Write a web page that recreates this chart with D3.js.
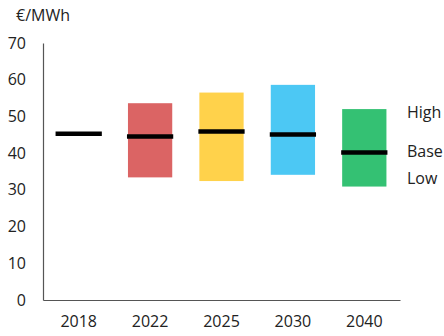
<!DOCTYPE html>
<html><head><meta charset="utf-8">
<script src="https://cdn.jsdelivr.net/npm/d3@7"></script>
<style>body{margin:0;background:#fff}svg{display:block}text{font-family:"Open Sans",sans-serif;fill:#222}</style>
</head><body><svg id="c" width="444" height="336"></svg>
<script>
const categories = ["2018","2022","2025","2030","2040"];
const lowValues  = [null, 33.4, 32.4, 34.1, 30.9];
const highValues = [null, 53.6, 56.5, 58.6, 52.0];
const baseValues = [45.3, 44.5, 45.9, 45.1, 40.2];
const colors     = [null, "#DB6464", "#FFD24B", "#4CC8F4", "#34C173"];
const yTicks = [0,10,20,30,40,50,60,70];
const legendLabels = [["High",51.2],["Base",40.6],["Low",33.0]];

const svg = d3.select("#c");
const m = {l:43, r:44, t:43, b:36};
const W = 444, H = 336;
const FS = 16;
const x = d3.scaleBand().domain(categories).range([m.l, W - m.r]).paddingInner(0.38).paddingOuter(0.19);
const y = d3.scaleLinear().domain([0,70]).range([H - m.b, m.t]);

const yAxis = svg.append("g").attr("transform",`translate(${m.l},0)`)
  .call(d3.axisLeft(y).tickValues(yTicks).tickSize(0).tickPadding(17));
yAxis.select(".domain").attr("stroke","#555").attr("stroke-width",1.2);
yAxis.selectAll("text").attr("font-size",FS).attr("fill","#222").attr("font-family","Open Sans, sans-serif");

const xAxis = svg.append("g").attr("transform",`translate(0,${H - m.b})`)
  .call(d3.axisBottom(x).tickSize(0).tickPadding(16));
xAxis.select(".domain").attr("stroke","#555").attr("stroke-width",1.2);
xAxis.selectAll("text").attr("font-size",FS).attr("fill","#222").attr("font-family","Open Sans, sans-serif");

const idx = d3.range(categories.length);
svg.append("g").selectAll("rect").data(idx.filter(i => highValues[i] != null)).join("rect")
  .attr("x", i => x(categories[i])).attr("width", x.bandwidth())
  .attr("y", i => y(highValues[i])).attr("height", i => y(lowValues[i]) - y(highValues[i]))
  .attr("fill", i => colors[i]);

svg.append("g").selectAll("line").data(idx).join("line")
  .attr("x1", i => x(categories[i]) - 1).attr("x2", i => x(categories[i]) + x.bandwidth() + 1)
  .attr("y1", i => y(baseValues[i])).attr("y2", i => y(baseValues[i]))
  .attr("stroke","#000").attr("stroke-width",4.5);

svg.append("g").selectAll("text").data(legendLabels).join("text")
  .attr("x", 407).attr("y", d => y(d[1])).attr("dy","0.35em")
  .attr("font-size",FS).text(d => d[0]);

svg.append("text").attr("x",16).attr("y",21).attr("font-size",FS).text("€/MWh");
</script></body></html>
